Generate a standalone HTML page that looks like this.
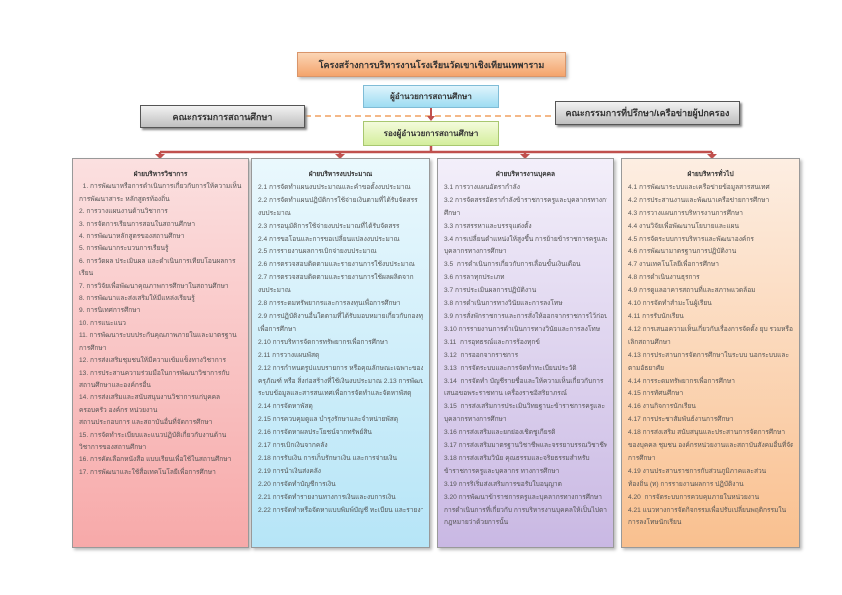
<!DOCTYPE html>
<html><head><meta charset="utf-8"><style>
*{margin:0;padding:0;box-sizing:border-box}
body{width:842px;height:595px;background:#fff;position:relative;overflow:hidden;font-family:"Liberation Sans","Noto Sans CJK SC",sans-serif;color:#333}
.b{position:absolute;display:flex;align-items:center;justify-content:center;font-weight:bold;font-size:9px;white-space:nowrap}
.col{position:absolute;top:158px;height:390px;border:1px solid #999;box-shadow:2px 2px 3px #bbb;padding:10px 6px 5px;font-size:6.6px;line-height:12.9px;color:#555}
.col div{white-space:nowrap;overflow:hidden}
.col .h{text-align:center;font-weight:bold;color:#333}
</style></head><body>
<svg width="842" height="595" style="position:absolute;left:0;top:0">
<line x1="305" y1="116" x2="555" y2="116" stroke="#f0a060" stroke-width="1.5" stroke-dasharray="6,4"/>
<line x1="431" y1="108" x2="431" y2="118" stroke="#c0504d" stroke-width="2"/>
<polygon points="427,116 435,116 431,121" fill="#c0504d"/>
<line x1="431" y1="146" x2="431" y2="152" stroke="#c0504d" stroke-width="2.5"/>
<line x1="160" y1="152" x2="712" y2="152" stroke="#c0504d" stroke-width="2.5"/>
<g stroke="#c0504d" stroke-width="2.5">
<line x1="160" y1="152" x2="160" y2="155"/><line x1="340" y1="152" x2="340" y2="155"/><line x1="525" y1="152" x2="525" y2="155"/><line x1="712" y1="152" x2="712" y2="155"/></g>
<g fill="#c0504d">
<polygon points="155,154 165,154 160,159"/><polygon points="335,154 345,154 340,159"/><polygon points="520,154 530,154 525,159"/><polygon points="707,154 717,154 712,159"/></g>
</svg>
<div class="b" style="left:297px;top:52px;width:269px;height:25px;background:linear-gradient(#fbd5b5,#f4a46c);border:1px solid #d9956a;box-shadow:2px 2px 3px #bbb">โครงสร้างการบริหารงานโรงเรียนวัดเขาเชิงเทียนเทพาราม</div>
<div class="b" style="left:363px;top:85px;width:136px;height:23px;background:linear-gradient(#dff4fc,#9ddcf2);border:1px solid #7fbcd6;font-size:8px">ผู้อำนวยการสถานศึกษา</div>
<div class="b" style="left:363px;top:121px;width:136px;height:25px;background:linear-gradient(#f4fbdc,#d4ee9c);border:1px solid #a8c770;font-size:8px">รองผู้อำนวยการสถานศึกษา</div>
<div class="b" style="left:140px;top:105px;width:165px;height:23px;background:linear-gradient(#f2f2f2,#bfbfbf);border:1px solid #555;box-shadow:2px 2px 2px #888">คณะกรรมการสถานศึกษา</div>
<div class="b" style="left:555px;top:101px;width:185px;height:24px;background:linear-gradient(#f2f2f2,#bfbfbf);border:1px solid #555;box-shadow:2px 2px 2px #888">คณะกรรมการที่ปรึกษา/เครือข่ายผู้ปกครอง</div>

<div class="col" style="left:72px;width:177px;line-height:12.4px;background:linear-gradient(#fbe0e0,#f7a9a9)">
<div class="h">ฝ่ายบริหารวิชาการ</div>
<div>&nbsp;&nbsp;1. การพัฒนาหรือการดำเนินการเกี่ยวกับการให้ความเห็น</div>
<div>การพัฒนาสาระ หลักสูตรท้องถิ่น</div>
<div>2. การวางแผนงานด้านวิชาการ</div>
<div>3. การจัดการเรียนการสอนในสถานศึกษา</div>
<div>4. การพัฒนาหลักสูตรของสถานศึกษา</div>
<div>5. การพัฒนากระบวนการเรียนรู้</div>
<div>6. การวัดผล ประเมินผล และดำเนินการเทียบโอนผลการ</div>
<div>เรียน</div>
<div>7. การวิจัยเพื่อพัฒนาคุณภาพการศึกษาในสถานศึกษา</div>
<div>8. การพัฒนาและส่งเสริมให้มีแหล่งเรียนรู้</div>
<div>9. การนิเทศการศึกษา</div>
<div>10. การแนะแนว</div>
<div>11. การพัฒนาระบบประกันคุณภาพภายในและมาตรฐาน</div>
<div>การศึกษา</div>
<div>12. การส่งเสริมชุมชนให้มีความเข้มแข็งทางวิชาการ</div>
<div>13. การประสานความร่วมมือในการพัฒนาวิชาการกับ</div>
<div>สถานศึกษาและองค์กรอื่น</div>
<div>14. การส่งเสริมและสนับสนุนงานวิชาการแก่บุคคล</div>
<div>ครอบครัว องค์กร หน่วยงาน</div>
<div>สถานประกอบการ และสถาบันอื่นที่จัดการศึกษา</div>
<div>15. การจัดทำระเบียบและแนวปฏิบัติเกี่ยวกับงานด้าน</div>
<div>วิชาการของสถานศึกษา</div>
<div>16. การคัดเลือกหนังสือ แบบเรียนเพื่อใช้ในสถานศึกษา</div>
<div>17. การพัฒนาและใช้สื่อเทคโนโลยีเพื่อการศึกษา</div>
</div>

<div class="col" style="left:251px;width:179px;background:linear-gradient(#eaf8fd,#b6e5f7)">
<div class="h">ฝ่ายบริหารงบประมาณ</div>
<div>2.1 การจัดทำแผนงบประมาณและคำขอตั้งงบประมาณ</div>
<div>2.2 การจัดทำแผนปฏิบัติการใช้จ่ายเงินตามที่ได้รับจัดสรร</div>
<div>งบประมาณ</div>
<div>2.3 การอนุมัติการใช้จ่ายงบประมาณที่ได้รับจัดสรร</div>
<div>2.4 การขอโอนและการขอเปลี่ยนแปลงงบประมาณ</div>
<div>2.5 การรายงานผลการเบิกจ่ายงบประมาณ</div>
<div>2.6 การตรวจสอบติดตามและรายงานการใช้งบประมาณ</div>
<div>2.7 การตรวจสอบติดตามและรายงานการใช้ผลผลิตจาก</div>
<div>งบประมาณ</div>
<div>2.8 การระดมทรัพยากรและการลงทุนเพื่อการศึกษา</div>
<div>2.9 การปฏิบัติงานอื่นใดตามที่ได้รับมอบหมายเกี่ยวกับกองทุน</div>
<div>เพื่อการศึกษา</div>
<div>2.10 การบริหารจัดการทรัพยากรเพื่อการศึกษา</div>
<div>2.11 การวางแผนพัสดุ</div>
<div>2.12 การกำหนดรูปแบบรายการ หรือคุณลักษณะเฉพาะของ</div>
<div>ครุภัณฑ์ หรือ สิ่งก่อสร้างที่ใช้เงินงบประมาณ 2.13 การพัฒนา</div>
<div>ระบบข้อมูลและสารสนเทศเพื่อการจัดทำและจัดหาพัสดุ</div>
<div>2.14 การจัดหาพัสดุ</div>
<div>2.15 การควบคุมดูแล บำรุงรักษาและจำหน่ายพัสดุ</div>
<div>2.16 การจัดหาผลประโยชน์จากทรัพย์สิน</div>
<div>2.17 การเบิกเงินจากคลัง</div>
<div>2.18 การรับเงิน การเก็บรักษาเงิน และการจ่ายเงิน</div>
<div>2.19 การนำเงินส่งคลัง</div>
<div>2.20 การจัดทำบัญชีการเงิน</div>
<div>2.21 การจัดทำรายงานทางการเงินและงบการเงิน</div>
<div>2.22 การจัดทำหรือจัดหาแบบพิมพ์บัญชี ทะเบียน และรายงาน</div>
</div>

<div class="col" style="left:437px;width:177px;background:linear-gradient(#f3effa,#c9b8e3)">
<div class="h">ฝ่ายบริหารงานบุคคล</div>
<div>3.1 การวางแผนอัตรากำลัง</div>
<div>3.2 การจัดสรรอัตรากำลังข้าราชการครูและบุคลากรทางการ</div>
<div>ศึกษา</div>
<div>3.3 การสรรหาและบรรจุแต่งตั้ง</div>
<div>3.4 การเปลี่ยนตำแหน่งให้สูงขึ้น การย้ายข้าราชการครูและ</div>
<div>บุคลากรทางการศึกษา</div>
<div>3.5 &nbsp;การดำเนินการเกี่ยวกับการเลื่อนขั้นเงินเดือน</div>
<div>3.6 การลาทุกประเภท</div>
<div>3.7 การประเมินผลการปฏิบัติงาน</div>
<div>3.8 การดำเนินการทางวินัยและการลงโทษ</div>
<div>3.9 การสั่งพักราชการและการสั่งให้ออกจากราชการไว้ก่อน</div>
<div>3.10 การรายงานการดำเนินการทางวินัยและการลงโทษ</div>
<div>3.11 &nbsp;การอุทธรณ์และการร้องทุกข์</div>
<div>3.12 &nbsp;การออกจากราชการ</div>
<div>3.13 &nbsp;การจัดระบบและการจัดทำทะเบียนประวัติ</div>
<div>3.14 &nbsp;การจัดทำ บัญชีรายชื่อและให้ความเห็นเกี่ยวกับการ</div>
<div>เสนอขอพระราชทาน เครื่องราชอิสริยาภรณ์</div>
<div>3.15 &nbsp;การส่งเสริมการประเมินวิทยฐานะข้าราชการครูและ</div>
<div>บุคลากรทางการศึกษา</div>
<div>3.16 การส่งเสริมและยกย่องเชิดชูเกียรติ</div>
<div>3.17 การส่งเสริมมาตรฐานวิชาชีพและจรรยาบรรณวิชาชีพ</div>
<div>3.18 การส่งเสริมวินัย คุณธรรมและจริยธรรมสำหรับ</div>
<div>ข้าราชการครูและบุคลากร ทางการศึกษา</div>
<div>3.19 การริเริ่มส่งเสริมการขอรับใบอนุญาต</div>
<div>3.20 การพัฒนาข้าราชการครูและบุคลากรทางการศึกษา</div>
<div>การดำเนินการที่เกี่ยวกับ การบริหารงานบุคคลให้เป็นไปตาม</div>
<div>กฎหมายว่าด้วยการนั้น</div>
</div>

<div class="col" style="left:621px;width:179px;background:linear-gradient(#fdeee2,#f9c08f)">
<div class="h">ฝ่ายบริหารทั่วไป</div>
<div>4.1 การพัฒนาระบบและเครือข่ายข้อมูลสารสนเทศ</div>
<div>4.2 การประสานงานและพัฒนาเครือข่ายการศึกษา</div>
<div>4.3 การวางแผนการบริหารงานการศึกษา</div>
<div>4.4 งานวิจัยเพื่อพัฒนานโยบายและแผน</div>
<div>4.5 การจัดระบบการบริหารและพัฒนาองค์กร</div>
<div>4.6 การพัฒนามาตรฐานการปฏิบัติงาน</div>
<div>4.7 งานเทคโนโลยีเพื่อการศึกษา</div>
<div>4.8 การดำเนินงานธุรการ</div>
<div>4.9 การดูแลอาคารสถานที่และสภาพแวดล้อม</div>
<div>4.10 การจัดทำสำมะโนผู้เรียน</div>
<div>4.11 การรับนักเรียน</div>
<div>4.12 การเสนอความเห็นเกี่ยวกับเรื่องการจัดตั้ง ยุบ รวมหรือ</div>
<div>เลิกสถานศึกษา</div>
<div>4.13 การประสานการจัดการศึกษาในระบบ นอกระบบและ</div>
<div>ตามอัธยาศัย</div>
<div>4.14 การระดมทรัพยากรเพื่อการศึกษา</div>
<div>4.15 การทัศนศึกษา</div>
<div>4.16 งานกิจการนักเรียน</div>
<div>4.17 การประชาสัมพันธ์งานการศึกษา</div>
<div>4.18 การส่งเสริม สนับสนุนและประสานการจัดการศึกษา</div>
<div>ของบุคคล ชุมชน องค์กรหน่วยงานและสถาบันสังคมอื่นที่จัด</div>
<div>การศึกษา</div>
<div>4.19 งานประสานราชการกับส่วนภูมิภาคและส่วน</div>
<div>ท้องถิ่น (ท) การรายงานผลการ ปฏิบัติงาน</div>
<div>4.20 &nbsp;การจัดระบบการควบคุมภายในหน่วยงาน</div>
<div>4.21 แนวทางการจัดกิจกรรมเพื่อปรับเปลี่ยนพฤติกรรมใน</div>
<div>การลงโทษนักเรียน</div>
</div>
</body></html>
